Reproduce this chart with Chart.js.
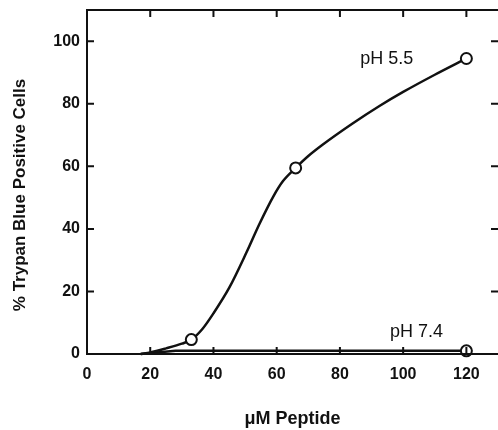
<!DOCTYPE html>
<html>
<head>
<meta charset="utf-8">
<script src="https://cdn.jsdelivr.net/npm/chart.js@4"></script>
<style>
  html, body { margin: 0; padding: 0; background: #fff; }
  #wrap { width: 498px; height: 430px; }
</style>
</head>
<body>
<div id="wrap"><canvas id="chart" width="498" height="430"></canvas></div>
<script>
// axis ticks
const xTicks = [0, 20, 40, 60, 80, 100, 120];
const yTicks = [0, 20, 40, 60, 80, 100];

// measured points (open circles)
const ph55X = [33, 66, 120];
const ph55Y = [4.6, 59.5, 94.5];
const ph74X = [120];
const ph74Y = [1];

// hand-drawn curves
const curve55X = [17, 20, 25, 30, 33, 36.5, 40, 45, 50.5, 54.5, 59, 62, 66, 70, 74.5, 84, 92.5, 100, 110, 120];
const curve55Y = [0, 0.5, 1.8, 3.3, 4.6, 8, 13, 21.2, 32.6, 41.5, 50.5, 55.3, 59.5, 63.3, 66.9, 73.7, 79.3, 83.8, 89.3, 94.5];
const curve74X = [17, 28, 120];
const curve74Y = [0, 1, 1];

// curve labels
const labels = [
    { text: 'pH 5.5', x: 94.8, y: 94.4 },
    { text: 'pH 7.4', x: 104.2, y: 6.9 }
];
const yTitle = '% Trypan Blue Positive Cells';

const ink = '#111';
const fontFamily = '"Liberation Sans", Arial, sans-serif';

const pts = (xs, ys) => xs.map((x, i) => ({ x: x, y: ys[i] }));

// frame with inward ticks on all four sides, plus curve labels and y title
const framePlugin = {
    id: 'frame',
    afterDatasetsDraw(chart) {
        const { ctx, chartArea: a, scales } = chart;
        ctx.save();
        ctx.strokeStyle = ink;
        ctx.lineWidth = 2;
        ctx.beginPath();
        ctx.moveTo(a.right + 2, a.top);
        ctx.lineTo(a.left, a.top);
        ctx.lineTo(a.left, a.bottom);
        ctx.lineTo(a.right + 2, a.bottom);
        ctx.stroke();

        const len = 7;
        ctx.beginPath();
        xTicks.forEach(v => {
            if (v === 0) return;
            const px = scales.x.getPixelForValue(v);
            ctx.moveTo(px, a.top); ctx.lineTo(px, a.top + len);
            ctx.moveTo(px, a.bottom); ctx.lineTo(px, a.bottom - len);
        });
        yTicks.forEach(v => {
            if (v === 0) return;
            const py = scales.y.getPixelForValue(v);
            ctx.moveTo(a.left, py); ctx.lineTo(a.left + len, py);
            ctx.moveTo(a.right, py); ctx.lineTo(a.right - len, py);
        });
        ctx.stroke();

        ctx.fillStyle = ink;
        ctx.font = '18px ' + fontFamily;
        ctx.textAlign = 'center';
        ctx.textBaseline = 'middle';
        labels.forEach(l => {
            ctx.fillText(l.text, scales.x.getPixelForValue(l.x), scales.y.getPixelForValue(l.y));
        });

        // rotated y title, sits a little below the plot centre as in the original
        ctx.translate(20, 195);
        ctx.rotate(-Math.PI / 2);
        ctx.font = 'bold 17px ' + fontFamily;
        ctx.fillText(yTitle, 0, 0);
        ctx.restore();
    }
};

const markerStyle = {
    showLine: false,
    pointRadius: 5.5,
    pointBackgroundColor: '#fff',
    pointBorderColor: ink,
    pointBorderWidth: 2
};

new Chart(document.getElementById('chart'), {
    type: 'line',
    data: {
        datasets: [
            // markers first so they sit on top of the curves
            Object.assign({ data: pts(ph55X, ph55Y) }, markerStyle),
            Object.assign({ data: pts(ph74X, ph74Y) }, markerStyle),
            {
                data: pts(curve55X, curve55Y),
                borderColor: ink,
                borderWidth: 2.5,
                pointRadius: 0,
                cubicInterpolationMode: 'monotone'
            },
            {
                data: pts(curve74X, curve74Y),
                borderColor: ink,
                borderWidth: 2.5,
                pointRadius: 0,
                tension: 0
            }
        ]
    },
    options: {
        responsive: false,
        animation: false,
        clip: false,
        layout: { autoPadding: false, padding: { top: 10, right: 0, left: 0, bottom: 0 } },
        plugins: {
            legend: { display: false },
            tooltip: { enabled: false }
        },
        scales: {
            x: {
                type: 'linear',
                min: 0,
                max: 130,
                afterBuildTicks: s => { s.ticks = xTicks.map(v => ({ value: v })); },
                afterFit: s => { s.height = 76; s.paddingLeft = 0; s.paddingRight = 0; },
                grid: { display: false, drawTicks: false },
                border: { display: false },
                ticks: {
                    color: ink,
                    padding: 11,
                    maxRotation: 0,
                    font: { family: fontFamily, size: 16, weight: 'bold' }
                },
                title: {
                    display: true,
                    text: 'μM Peptide',
                    color: ink,
                    padding: { top: 0, bottom: 0 },
                    font: { family: fontFamily, size: 18, weight: 'bold' }
                }
            },
            y: {
                type: 'linear',
                min: 0,
                max: 110,
                afterBuildTicks: s => { s.ticks = yTicks.map(v => ({ value: v })); },
                afterFit: s => { s.width = 87; s.paddingTop = 0; s.paddingBottom = 0; },
                grid: { display: false, drawTicks: false },
                border: { display: false },
                ticks: {
                    color: ink,
                    padding: 7,
                    font: { family: fontFamily, size: 16, weight: 'bold' }
                }
            }
        }
    },
    plugins: [framePlugin]
});
</script>
</body>
</html>
